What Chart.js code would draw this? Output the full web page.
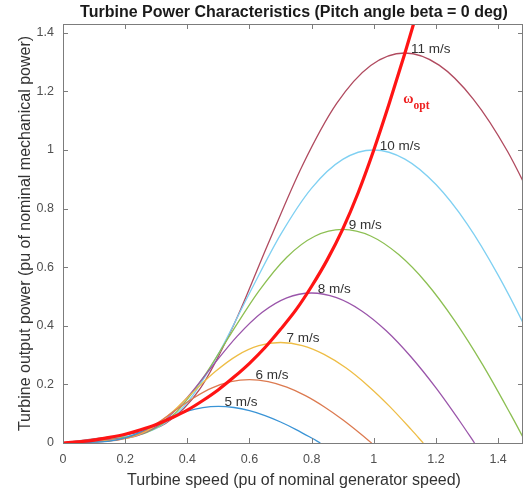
<!DOCTYPE html>
<html>
<head>
<meta charset="utf-8">
<script src="https://cdn.jsdelivr.net/npm/chart.js@4/dist/chart.umd.min.js"></script>
<style>
  html, body { margin: 0; padding: 0; background: #ffffff; }
  #wrap { width: 524px; height: 496px; }
</style>
</head>
<body>
<div id="wrap"><canvas id="c" width="524" height="496"></canvas></div>
<script>
// ---- Data ----
const chartTitle = 'Turbine Power Characteristics (Pitch angle beta = 0 deg)';
const xAxisTitle = 'Turbine speed (pu of nominal generator speed)';
const yAxisTitle = 'Turbine output power (pu of nominal mechanical power)';

const xTicks = [0, 0.2, 0.4, 0.6, 0.8, 1, 1.2, 1.4];
const yTicks = [0, 0.2, 0.4, 0.6, 0.8, 1, 1.2, 1.4];

const windSpeeds = [5, 6, 7, 8, 9, 10, 11];
const seriesColors = ['#3a94d6', '#dc7a50', '#eebd45', '#9a55aa', '#8cbf52', '#7fd0f2', '#b04a5f'];

const speed5 = [0, 0.05, 0.1, 0.15, 0.2, 0.25, 0.3, 0.35, 0.4, 0.45, 0.5, 0.55, 0.6, 0.65, 0.7, 0.75, 0.8, 0.828];
const power5 = [0, 0.0014, 0.0029, 0.0062, 0.0173, 0.038, 0.0639, 0.0889, 0.1088, 0.121, 0.125, 0.1211, 0.1103, 0.0935, 0.0716, 0.0459, 0.0169, 0];

const speed6 = [0, 0.06, 0.12, 0.18, 0.24, 0.3, 0.36, 0.42, 0.48, 0.54, 0.6, 0.66, 0.72, 0.78, 0.84, 0.9, 0.96, 0.993];
const power6 = [0, 0.0025, 0.005, 0.0108, 0.0298, 0.0657, 0.1104, 0.1536, 0.1879, 0.2091, 0.216, 0.2093, 0.1905, 0.1616, 0.1238, 0.0793, 0.0292, 0];

const speed7 = [0, 0.07, 0.14, 0.21, 0.28, 0.35, 0.42, 0.49, 0.56, 0.63, 0.7, 0.77, 0.84, 0.91, 0.98, 1.05, 1.12, 1.159];
const power7 = [0, 0.0039, 0.008, 0.0171, 0.0473, 0.1043, 0.1753, 0.2439, 0.2984, 0.332, 0.343, 0.3324, 0.3025, 0.2566, 0.1965, 0.1259, 0.0463, 0];

const speed8 = [0, 0.08, 0.16, 0.24, 0.32, 0.4, 0.48, 0.56, 0.64, 0.72, 0.8, 0.88, 0.96, 1.04, 1.12, 1.2, 1.28, 1.324];
const power8 = [0, 0.0059, 0.0119, 0.0255, 0.0707, 0.1556, 0.2616, 0.364, 0.4454, 0.4956, 0.512, 0.4961, 0.4516, 0.383, 0.2934, 0.1879, 0.0691, 0];

const speed9 = [0, 0.09, 0.18, 0.27, 0.36, 0.45, 0.54, 0.63, 0.72, 0.81, 0.9, 0.99, 1.08, 1.17, 1.26, 1.35, 1.44, 1.49];
const power9 = [0, 0.0084, 0.017, 0.0363, 0.1006, 0.2216, 0.3725, 0.5183, 0.6342, 0.7057, 0.729, 0.7064, 0.643, 0.5453, 0.4177, 0.2675, 0.0984, 0];

const speed10 = [0, 0.1, 0.2, 0.3, 0.4, 0.5, 0.6, 0.7, 0.8, 0.9, 1.0, 1.1, 1.2, 1.3, 1.4, 1.5, 1.6];
const power10 = [0, 0.0115, 0.0233, 0.0498, 0.138, 0.304, 0.511, 0.711, 0.87, 0.968, 1.0, 0.969, 0.882, 0.748, 0.573, 0.367, 0.135];

const speed11 = [0, 0.11, 0.22, 0.33, 0.44, 0.55, 0.66, 0.77, 0.88, 0.99, 1.1, 1.21, 1.32, 1.43, 1.54];
const power11 = [0, 0.0153, 0.031, 0.0663, 0.1837, 0.4046, 0.6801, 0.9463, 1.158, 1.2884, 1.331, 1.2897, 1.1739, 0.9956, 0.7627];

const speedOpt = [0, 0.05, 0.1, 0.15, 0.2, 0.25, 0.3, 0.35, 0.4, 0.45, 0.5, 0.55, 0.6, 0.65, 0.7, 0.75, 0.8, 0.85, 0.9, 0.95, 1.0, 1.05, 1.1, 1.15];
const powerOpt = [0, 0.004, 0.01, 0.019, 0.03, 0.045, 0.063, 0.086, 0.112, 0.145, 0.182, 0.225, 0.272, 0.326, 0.388, 0.455, 0.535, 0.625, 0.73, 0.855, 1.0, 1.16, 1.33, 1.51];
const optLabelAt = [1.095, 1.172];

const speedSeries = [speed5, speed6, speed7, speed8, speed9, speed10, speed11];
const powerSeries = [power5, power6, power7, power8, power9, power10, power11];

const toPoints = (xs, ys) => xs.map((x, i) => ({ x: x, y: ys[i] }));

const datasets = [{
  label: 'omega_opt',
  data: toPoints(speedOpt, powerOpt),
  borderColor: '#ff1414',
  borderWidth: 3.2,
  order: 0
}];
windSpeeds.forEach((v, i) => {
  datasets.push({
    label: v + ' m/s',
    data: toPoints(speedSeries[i], powerSeries[i]),
    borderColor: seriesColors[i],
    borderWidth: 1.3,
    order: 1
  });
});

const SANS = '"Liberation Sans", Arial, Helvetica, sans-serif';
const SERIF = '"Liberation Serif", "Times New Roman", serif';

const decor = {
  id: 'decor',
  afterDraw(chart) {
    const { ctx, chartArea: a, scales } = chart;
    const xs = scales.x, ys = scales.y;
    ctx.save();
    // box + inward ticks
    ctx.strokeStyle = '#7c7c7c';
    ctx.lineWidth = 1;
    ctx.strokeRect(a.left + 0.5, a.top + 0.5, a.right - a.left - 1, a.bottom - a.top);
    ctx.beginPath();
    xTicks.forEach(v => {
      const p = Math.round(xs.getPixelForValue(v)) + 0.5;
      ctx.moveTo(p, a.bottom); ctx.lineTo(p, a.bottom - 5);
      ctx.moveTo(p, a.top); ctx.lineTo(p, a.top + 5);
    });
    yTicks.forEach(v => {
      const p = Math.round(ys.getPixelForValue(v)) + 0.5;
      ctx.moveTo(a.left, p); ctx.lineTo(a.left + 5, p);
      ctx.moveTo(a.right, p); ctx.lineTo(a.right - 5, p);
    });
    ctx.stroke();

    // title
    const cx = (a.left + a.right) / 2;
    ctx.fillStyle = '#1a1a1a';
    ctx.font = 'bold 16px ' + SANS;
    ctx.textAlign = 'center';
    ctx.textBaseline = 'middle';
    ctx.fillText(chartTitle, cx + 1, 13);

    // axis titles
    ctx.fillStyle = '#333333';
    ctx.font = '16px ' + SANS;
    ctx.fillText(xAxisTitle, cx + 1, 481);
    ctx.save();
    ctx.translate(25.5, (a.top + a.bottom) / 2);
    ctx.rotate(-Math.PI / 2);
    ctx.fillText(yAxisTitle, 0, 0);
    ctx.restore();

    // wind speed labels at the curve peaks
    ctx.font = '13.5px ' + SANS;
    ctx.fillStyle = '#333333';
    ctx.textAlign = 'left';
    windSpeeds.forEach((v, i) => {
      const ysr = powerSeries[i];
      let k = 0;
      ysr.forEach((val, j) => { if (val > ysr[k]) k = j; });
      const px = xs.getPixelForValue(speedSeries[i][k]);
      const py = ys.getPixelForValue(ysr[k]);
      ctx.fillText(v + ' m/s', px + 6, py - 4);
    });

    // omega_opt label
    const ox = xs.getPixelForValue(optLabelAt[0]);
    const oy = ys.getPixelForValue(optLabelAt[1]);
    ctx.fillStyle = '#ee2020';
    ctx.font = 'bold 14px ' + SERIF;
    ctx.textAlign = 'left';
    ctx.fillText('ω', ox, oy);
    const w = ctx.measureText('ω').width;
    ctx.font = 'bold 11.5px ' + SERIF;
    ctx.fillText('opt', ox + w, oy + 6);
    ctx.restore();
  }
};

new Chart(document.getElementById('c'), {
  type: 'line',
  data: { datasets: datasets },
  options: {
    responsive: false,
    animation: false,
    devicePixelRatio: 1,
    layout: { padding: { top: 24, right: 1, left: 0, bottom: 0 } },
    elements: { point: { radius: 0 }, line: { cubicInterpolationMode: 'monotone' } },
    plugins: { legend: { display: false }, tooltip: { enabled: false }, title: { display: false } },
    scales: {
      x: {
        type: 'linear', min: 0, max: 1.48,
        afterFit: s => { s.height = 53; },
        afterBuildTicks: s => { s.ticks = xTicks.map(v => ({ value: v })); },
        grid: { display: false, drawTicks: false },
        border: { display: false },
        ticks: {
          padding: 9, color: '#505050', font: { family: SANS, size: 12.5 },
          maxRotation: 0, autoSkip: false,
          callback: v => String(Number(v.toFixed(1)))
        }
      },
      y: {
        type: 'linear', min: 0, max: 1.43,
        afterFit: s => { s.width = 63; },
        afterBuildTicks: s => { s.ticks = yTicks.map(v => ({ value: v })); },
        grid: { display: false, drawTicks: false },
        border: { display: false },
        ticks: {
          padding: 9, color: '#505050', font: { family: SANS, size: 12.5 },
          autoSkip: false,
          callback: v => String(Number(v.toFixed(1)))
        }
      }
    }
  },
  plugins: [decor]
});
</script>
</body>
</html>
